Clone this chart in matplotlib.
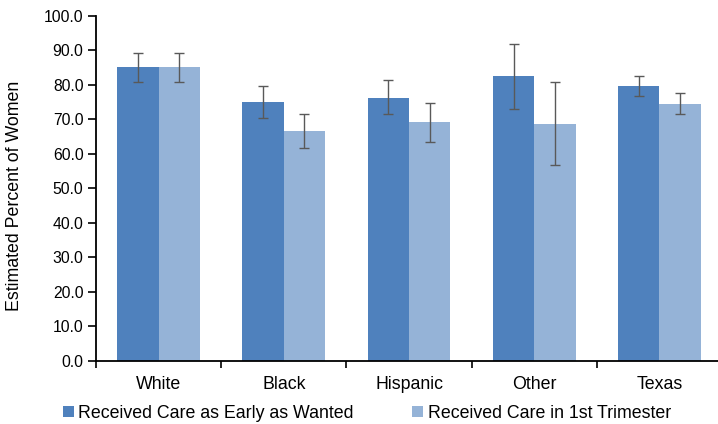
import matplotlib.pyplot as plt
import numpy as np

plt.rcParams['font.family'] = ['Liberation Sans', 'DejaVu Sans']

# Estimated percent of women, with lower/upper confidence limits
groups = ['White', 'Black', 'Hispanic', 'Other', 'Texas']
early_wanted = [85.2, 74.9, 76.3, 82.5, 79.6]
early_lo = [80.9, 70.4, 71.5, 73.1, 76.7]
early_hi = [89.3, 79.6, 81.5, 91.7, 82.6]
first_tri = [85.2, 66.6, 69.1, 68.5, 74.3]
first_lo = [80.9, 61.6, 63.4, 56.9, 71.5]
first_hi = [89.3, 71.5, 74.6, 80.8, 77.6]

dark = '#4F81BD'
light = '#95B3D7'
err_color = '#595959'

fig = plt.figure(figsize=(7.18, 4.24), dpi=100)
ax = fig.add_axes([96 / 718, (424 - 361) / 424, 626 / 718, (361 - 15.7) / 424])

x = np.arange(len(groups))
w = 0.33

def yerr(vals, lo, hi):
    vals = np.array(vals)
    return [vals - np.array(lo), np.array(hi) - vals]

ax.bar(x - w / 2, early_wanted, w, color=dark, label='Received Care as Early as Wanted',
       yerr=yerr(early_wanted, early_lo, early_hi), ecolor=err_color,
       error_kw=dict(capsize=3.5, elinewidth=1, capthick=1))
ax.bar(x + w / 2, first_tri, w, color=light, label='Received Care in 1st Trimester',
       yerr=yerr(first_tri, first_lo, first_hi), ecolor=err_color,
       error_kw=dict(capsize=3.5, elinewidth=1, capthick=1))

ax.set_xlim(-0.5, len(groups) - 0.5)
ax.set_ylim(0, 100)
ax.set_yticks(np.arange(0, 101, 10))
ax.set_yticklabels([f'{v:.1f}' for v in np.arange(0, 101, 10)], fontsize=11.3)
ax.set_xticks(x)
ax.set_xticklabels(groups, fontsize=12.8)
ax.set_xticks(np.arange(-0.5, len(groups), 1), minor=True)
ax.tick_params(axis='x', which='major', length=0, pad=11)
ax.tick_params(axis='x', which='minor', length=5, width=1.2, direction='out')
ax.tick_params(axis='y', length=6, width=1.2, direction='out', pad=3)

for s in ['top', 'right']:
    ax.spines[s].set_visible(False)
for s in ['left', 'bottom']:
    ax.spines[s].set_linewidth(1.3)

ax.set_ylabel('Estimated Percent of Women', fontsize=12.8)
ax.yaxis.set_label_coords(-0.117, 0.478)

fig.legend(loc='center', bbox_to_anchor=(367 / 718, 1 - 413 / 424), ncol=2,
           frameon=False, fontsize=12.8, handlelength=0.6, handleheight=0.6,
           handletextpad=0.25, columnspacing=3.3)

plt.savefig('out.png', dpi=100)
